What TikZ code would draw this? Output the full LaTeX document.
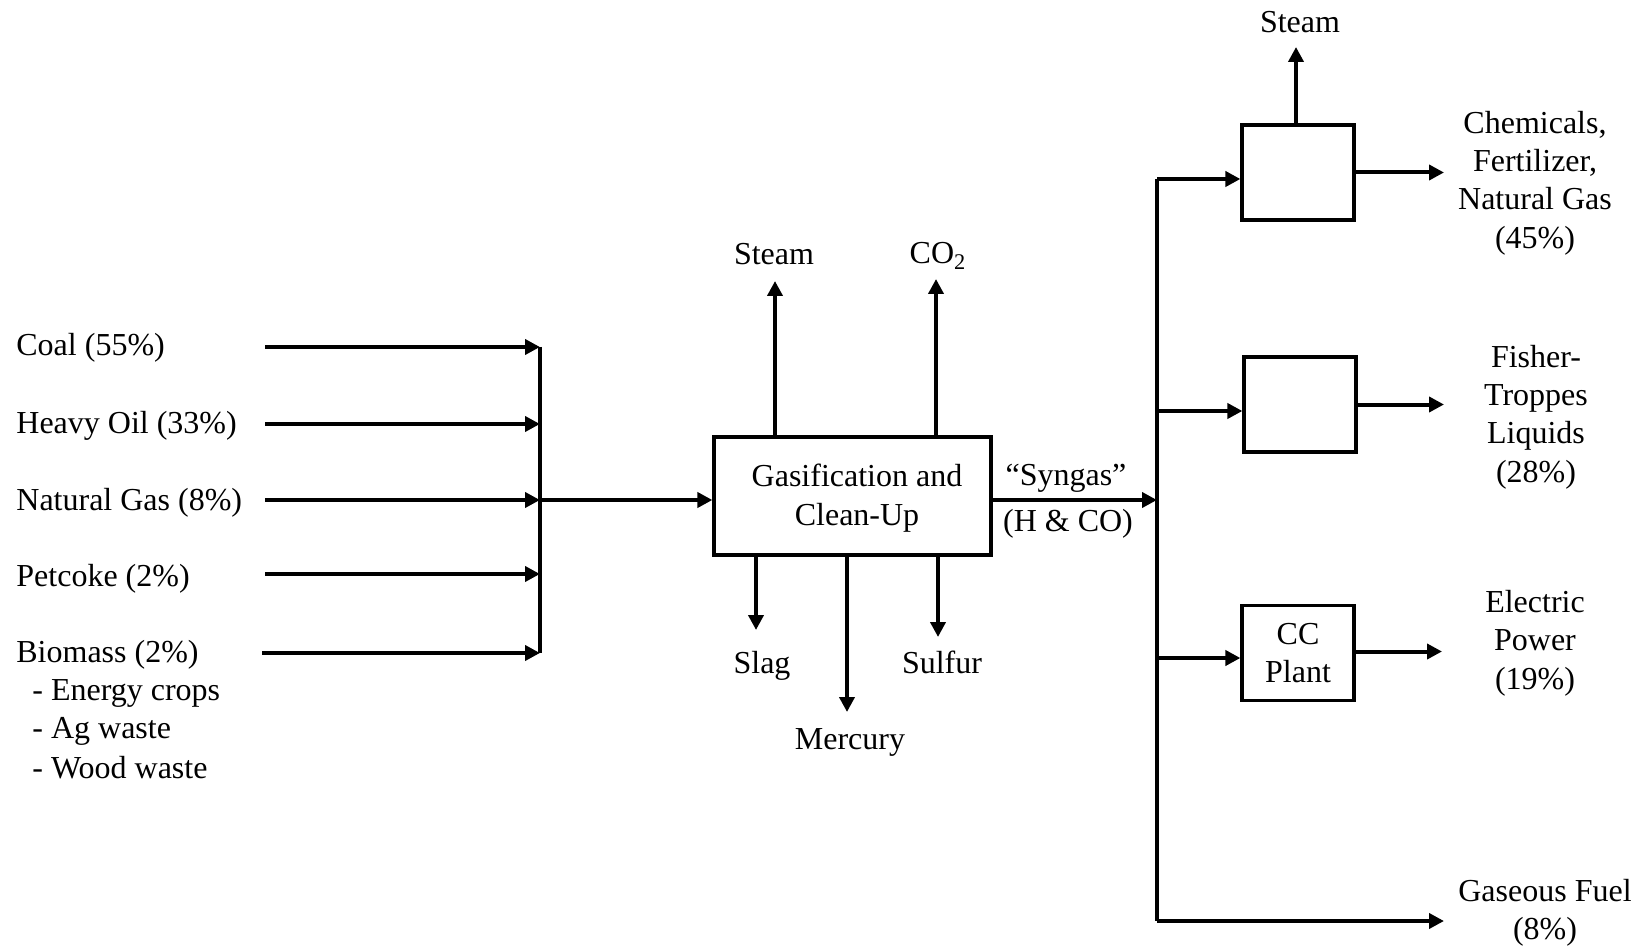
\documentclass[tikz,border=0pt]{standalone}
\usepackage{fontspec}
\setmainfont{Liberation Serif}
\usepackage{tikz}
\usetikzlibrary{arrows.meta,positioning,calc}

\begin{document}
\begin{tikzpicture}[x=0.5pt, y=-0.5pt,
    flow/.style={-{Triangle[length=7.5pt,width=7.5pt]}, line width=2pt},
    bus/.style={line width=2pt},
    unit/.style={draw, line width=1.6pt, minimum width=56pt, minimum height=47.5pt, inner sep=0pt},
    lbl/.style={font=\fontsize{16}{19.2}\selectfont, inner sep=0pt, align=center}]
    \useasboundingbox (0,0) rectangle (1647,946);
    % feedstocks
    \node[lbl, anchor=west] (coal) at (16,348) {Coal (55\%)};
    \node[lbl, anchor=west] (oil)  at (16,426) {Heavy Oil (33\%)};
    \node[lbl, anchor=west] (ng)   at (16,503) {Natural Gas (8\%)};
    \node[lbl, anchor=west] (pet)  at (16,579) {Petcoke (2\%)};
    \node[lbl, anchor=west] (bio)  at (16,655) {Biomass (2\%)};
    \node[lbl, anchor=west] (bio1) at (32,693) {- Energy crops};
    \node[lbl, anchor=west] (bio2) at (32,731) {- Ag waste};
    \node[lbl, anchor=west] (bio3) at (32,768) {- Wood waste};
    \coordinate (s1) at (265,347);
    \coordinate (s2) at (265,424);
    \coordinate (s3) at (265,500);
    \coordinate (s4) at (265,574);
    \coordinate (s5) at (262,653);
    \coordinate (b1) at (540,347);
    \coordinate (b2) at (540,424);
    \coordinate (b3) at (540,500);
    \coordinate (b4) at (540,574);
    \coordinate (b5) at (540,653);
    \draw[bus] (b1) -- (b5);
    \draw[flow] (s1) -- (b1);
    \draw[flow] (s2) -- (b2);
    \draw[flow] (s3) -- (b3);
    \draw[flow] (s4) -- (b4);
    \draw[flow] (s5) -- (b5);
    % gasifier
    \node[draw, line width=1.6pt, minimum width=138.5pt, minimum height=59pt] (gas) at (852.5,496) {};
    \node[lbl] (gastxt) at (857,498) {Gasification and\\Clean-Up};
    \draw[flow] (b3) -- (b3 -| gas.west);
    \coordinate (stm) at (775,281);
    \coordinate (co2) at (936,279);
    \coordinate (slg) at (756,630);
    \coordinate (hg)  at (847,712);
    \coordinate (sul) at (938,637);
    \draw[flow] (gas.north -| stm) -- (stm);
    \draw[flow] (gas.north -| co2) -- (co2);
    \draw[flow] (gas.south -| slg) -- (slg);
    \draw[flow] (gas.south -| hg) -- (hg);
    \draw[flow] (gas.south -| sul) -- (sul);
    \node[lbl] (steamA) at (774,254) {Steam};
    \node[lbl] (co2l)   at (938,256) {CO\textsubscript{2}};
    \node[lbl] (slag)   at (762,666) {Slag};
    \node[lbl] (merc)   at (850,742) {Mercury};
    \node[lbl] (sulf)   at (942,662) {Sulfur};
    % syngas split
    \coordinate (j) at (1157,500);
    \draw[flow] (gas.east |- j) -- (j);
    \node[lbl] (syn)  at (1066,478) {“Syngas”};
    \node[lbl] (syn2) at (1068,524) {(H \& CO)};
    \coordinate (r1) at (1157,179);
    \coordinate (r2) at (1157,411);
    \coordinate (r3) at (1157,658);
    \coordinate (r4) at (1157,921);
    \draw[bus] (r1) -- (r4);
    \node[unit] (chem) at (1298,172.5) {};
    \node[unit] (ft)   at (1300,404.5) {};
    \node[unit, lbl, inner sep=0pt] (cc) at (1298,653) {CC\\Plant};
    \draw[flow] (r1) -- (r1 -| chem.west);
    \draw[flow] (r2) -- (r2 -| ft.west);
    \draw[flow] (r3) -- (r3 -| cc.west);
    \coordinate (stm2) at (1296,47);
    \draw[flow] (chem.north -| stm2) -- (stm2);
    \node[lbl] (steamB) at (1300,22) {Steam};
    % products
    \coordinate (o1) at (1444,172.5);
    \coordinate (o2) at (1444,404.5);
    \coordinate (o3) at (1442,651.5);
    \coordinate (o4) at (1444,921);
    \draw[flow] (chem.east) -- (o1);
    \draw[flow] (ft.east) -- (o2);
    \draw[flow] (cc.east |- o3) -- (o3);
    \draw[flow] (r4) -- (o4);
    \node[lbl] (chemout) at (1535,183) {Chemicals,\\Fertilizer,\\Natural Gas\\(45\%)};
    \node[lbl] (ftout)   at (1536,417) {Fisher-\\Troppes\\Liquids\\(28\%)};
    \node[lbl] (power)   at (1535,643) {Electric\\Power\\(19\%)};
    \node[lbl] (fuel)    at (1545,913) {Gaseous Fuel\\(8\%)};
\end{tikzpicture}
\end{document}
